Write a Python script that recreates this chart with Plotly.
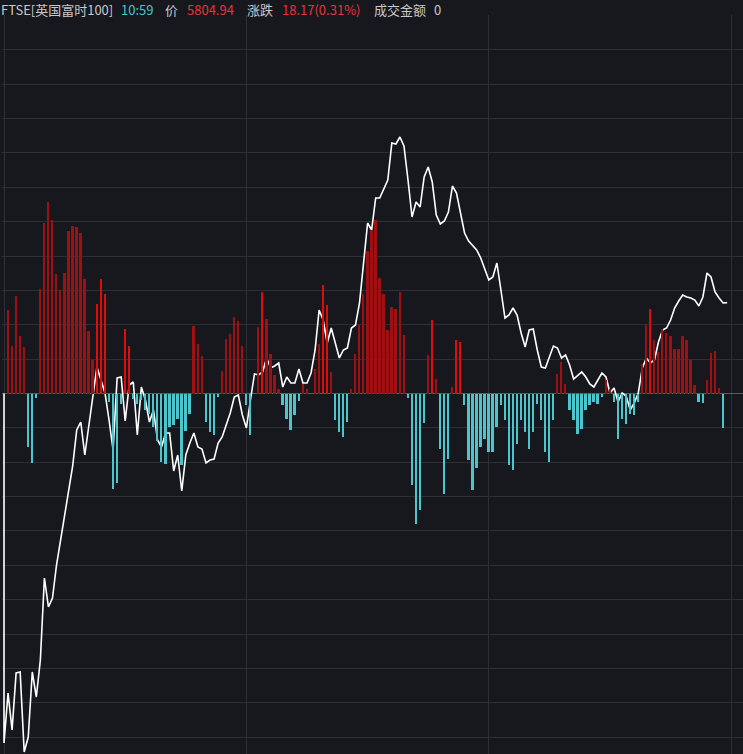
import plotly.graph_objects as go

prev_close = 5786.77
last_price = 5804.94
last_chg = 18.17
last_pct = 0.31
time_label = "10:59"

# price change vs previous close, one value per minute from 08:00 (m=0) to 10:59 (m=179)
price_chg = [
    -69.9, -59.9, -67.3, -55.9, -55.7, -71.7, -68.7, -55.7, -60.7, -53.3,
    -36.9, -42.7, -40.9, -34.3, -29.3, -23.7, -18.7, -14.5, -7.3, -5.7,
    -12.3, -6.3, -0.3, 5.3, 2.7, 0.1, -5.3, -11.3, 3.1, 3.3,
    -5.5, 1.7, 2.3, -8.3, 1.3, -1.3, -5.7, -3.3, -9.3, -10.7,
    -7.9, -7.9, -15.5, -12.3, -19.5, -12.3, -9.9, -7.9, -10.7, -11.1,
    -13.9, -13.3, -13.1, -9.9, -8.7, -6.3, -3.9, -0.7, -0.3, -4.3,
    -6.9, -1.3, 3.9, 3.7, 4.3, 7.1, 5.1, 5.5, 6.1, 1.3,
    3.3, 2.1, 2.1, 4.9, 2.1, 2.1, 4.1, 8.7, 16.7, 14.7,
    10.1, 13.1, 10.1, 7.1, 8.7, 9.1, 13.1, 13.7, 18.1, 26.1,
    34.1, 32.7, 39.1, 39.1, 41.1, 42.7, 50.1, 49.9, 51.3, 49.5,
    42.7, 35.3, 38.3, 37.3, 43.3, 45.3, 42.3, 35.7, 33.9, 34.5,
    36.3, 41.5, 40.1, 35.7, 32.1, 30.5, 29.7, 28.7, 27.1, 24.7,
    22.7, 23.3, 26.1, 20.7, 15.1, 15.7, 17.1, 15.7, 12.1, 9.3,
    12.7, 12.9, 8.7, 5.3, 5.1, 7.3, 9.5, 9.1, 7.1, 7.7,
    5.7, 2.9, 3.7, 4.3, 3.3, 1.9, 1.3, 2.7, 4.1, 3.3,
    0.1, 1.1, -1.7, 0.1, -0.5, -3.3, -1.9, 0.1, 5.1, 7.1,
    6.1, 6.7, 10.3, 12.7, 13.1, 14.7, 17.1, 18.5, 19.7, 19.3,
    19.1, 18.7, 17.5, 19.3, 24.1, 23.3, 20.3, 19.1, 18.1, 18.17,
]
minutes = list(range(len(price_chg)))

# per-minute flow bars for minutes 1..179 (positive red, negative cyan)
flow = [
    83.5, 47.5, 97.5, 57.8, 46.8, -53, -69, -4, 104.8, 170.8,
    191.8, 174, 120, 104, 120.8, 162.8, 167.5, 166.8, 160.8, 115,
    62.8, 33.5, 90, 115, 100, -8, -95, -89, -10, 65,
    48, -5, -10, -6, -16, -20, -33, -47, -68, -70,
    -33, -31, -25, -71, -37, -20, 67.5, 50, 37.5, -28,
    -38, -41.5, -3, 23, 55, 60, 77, 73, 47.5, -11,
    -41.5, 0, 66.8, 101.8, 75, 39.5, 18.5, 5, -11.5, -25,
    -36.5, -21.5, -7, 9.5, 5, 0, 25, 50, 108.5, 88.5,
    22, -26.5, -38, -43, -28, 5, 40, 68.5, 100, 143,
    163.5, 173.5, 115.5, 100, 63.5, 87, 85, 102, 58.5, -4,
    -91.5, -130, -116, -29, 38.5, 73.5, 15, -55, -100, -65,
    7, 54, 52, -11.5, -66.5, -96.5, -74, -53, -45, -58,
    -58, -33, -11.5, -26.5, -71.5, -76.5, -50, -26.5, -38, -55,
    -38, -10.5, -26.5, -58, -68, -26.5, 20, 32, 10, -16.5,
    -26.5, -40, -35, -16.5, -11.5, -8, -10.5, -3, 13.5, 5,
    -8, -45, -25, -30, -20, -21.5, -8, 30, 68.5, 85,
    54, 42, 65, 61, 57.5, 45, 45, 57.5, 53.5, 33.5,
    8.5, -8, -9, 13.5, 40.8, 42.5, 6, -34, 0,
]
flow_minutes = list(range(1, len(flow) + 1))
bright_minutes = {23, 24, 25, 30, 31, 64, 79, 80, 106, 112, 113, 160}

W, H = 743, 754
ML, MR, MT, MB = 2, 0, 15, 0
ZERO_PX = 393.5
PX_PER_PT = 5.0
PX_PER_MIN = 4.04

plot_w = W - ML - MR
plot_h = H - MT - MB
x_lo = -(4 - ML) / PX_PER_MIN
x_hi = x_lo + plot_w / PX_PER_MIN
y_hi = prev_close + (ZERO_PX - MT) / PX_PER_PT
y_lo = prev_close - (H - MB - ZERO_PX) / PX_PER_PT
grid_step = 34.36 / PX_PER_PT

bar_colors = []
for m, v in zip(flow_minutes, flow):
    if v >= 0:
        bar_colors.append("#e00b0b" if m in bright_minutes else "#a00f12")
    else:
        bar_colors.append("#4cc6cc")

fig = go.Figure()
fig.add_trace(go.Bar(
    x=flow_minutes, y=flow, marker=dict(color=bar_colors, line=dict(width=0)),
    width=0.45, yaxis="y2", hoverinfo="skip",
))
fig.add_trace(go.Scatter(
    x=[0] + minutes, y=[prev_close] + [prev_close + c for c in price_chg],
    mode="lines", line=dict(color="#ffffff", width=1.6), hoverinfo="skip",
))

bg = "#16181d"
grid = "#2c2f36"
fig.update_layout(
    width=W, height=H, margin=dict(l=ML, r=MR, t=MT, b=MB),
    paper_bgcolor=bg, plot_bgcolor=bg, showlegend=False, bargap=0,
    xaxis=dict(range=[x_lo, x_hi], tick0=0, dtick=60, showgrid=True, gridcolor=grid,
               gridwidth=1, zeroline=False, showticklabels=False, ticks="", fixedrange=True),
    yaxis=dict(range=[y_lo, y_hi], tick0=prev_close, dtick=grid_step, showgrid=True,
               gridcolor=grid, gridwidth=1, zeroline=False, showticklabels=False, ticks=""),
    yaxis2=dict(range=[-(H - MB - ZERO_PX), ZERO_PX - MT], overlaying="y", showgrid=False,
                zeroline=True, zerolinecolor="#5a5d63", zerolinewidth=1,
                showticklabels=False, ticks=""),
)

gray = "#c9c9c9"
red = "#e8333b"
cyan = "#40c8cc"
header = [
    (0, "FTSE[英国富时100]", gray),
    (120, time_label, cyan),
    (164, "价", gray),
    (186, f"{last_price:.2f}", red),
    (246, "涨跌", gray),
    (281, f"{last_chg:.2f}({last_pct:.2f}%)", red),
    (373, "成交金额", gray),
    (433, "0", gray),
]
for px, txt, col in header:
    fig.add_annotation(
        x=(px - ML) / plot_w, y=1 + (MT + 1) / plot_h, xref="paper", yref="paper",
        text=txt, showarrow=False, xanchor="left", yanchor="top",
        borderpad=0, font=dict(family="Noto Sans CJK SC", size=13, color=col),
    )

fig.write_html(
    "out.html",
    config={"displayModeBar": False},
    post_script="document.body.style.margin='0';document.body.style.background='#16181d';document.body.style.overflow='hidden';",
)
